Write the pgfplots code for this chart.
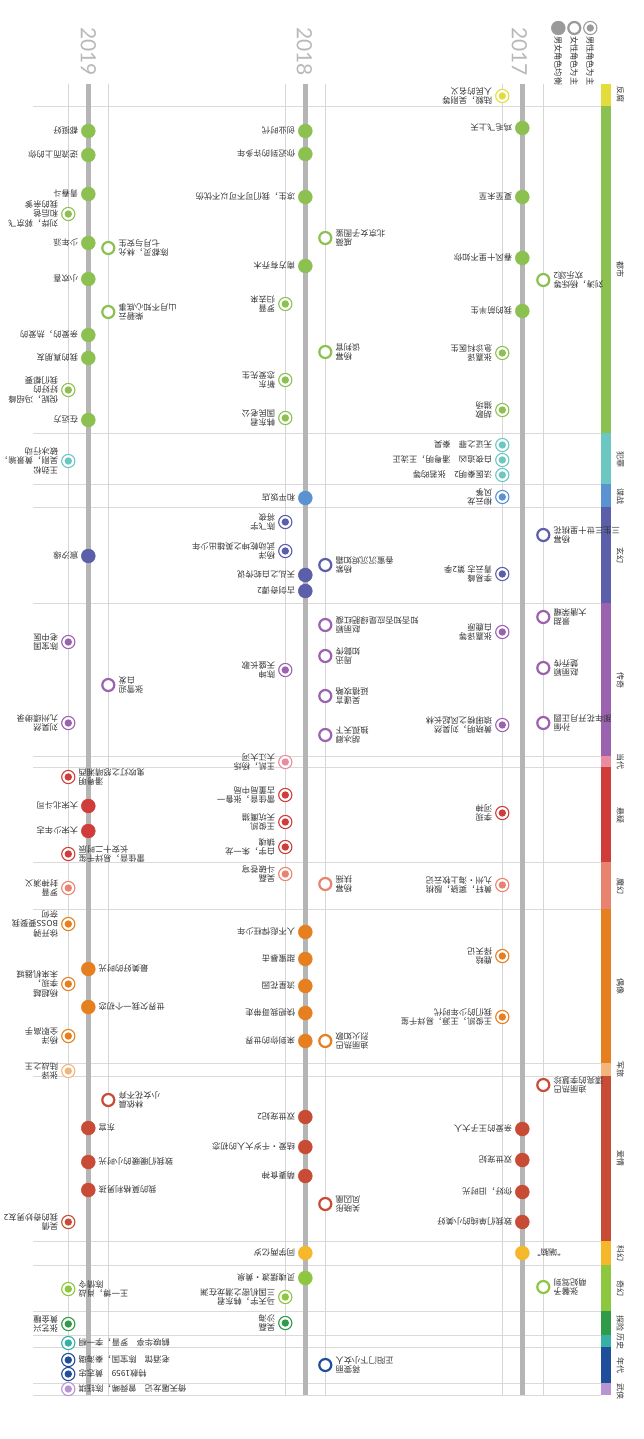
\documentclass[border=0pt]{standalone}
\usepackage{pgfplots}
\pgfplotsset{compat=1.18}
\usepackage{fontspec}
\setmainfont{Liberation Sans}
\newfontfamily\cjk{Noto Sans CJK SC}
\newfontfamily\yearfont{Lato}

\definecolor{labc}{HTML}{333333}
\definecolor{legc}{HTML}{9A9A9A}
\definecolor{yearc}{HTML}{B8B8B8}
\definecolor{mainl}{HTML}{B5B5B5}
\definecolor{thinl}{HTML}{D6D6D6}
\definecolor{sepl}{HTML}{DADADA}
\definecolor{cFF}{HTML}{E3DC3A}
\definecolor{cDS}{HTML}{8CC152}
\definecolor{cFZ}{HTML}{6CC7C2}
\definecolor{cDZ}{HTML}{5B92D2}
\definecolor{cXH}{HTML}{5B5EA8}
\definecolor{cCQ}{HTML}{9B62B0}
\definecolor{cDD}{HTML}{EA8CA0}
\definecolor{cXY}{HTML}{CF3C3A}
\definecolor{cMH}{HTML}{E88370}
\definecolor{cOX}{HTML}{E57F1F}
\definecolor{cJL}{HTML}{F2B57C}
\definecolor{cAQ}{HTML}{C84B35}
\definecolor{cKH}{HTML}{F5B82A}
\definecolor{cQH}{HTML}{8DC63F}
\definecolor{cTX}{HTML}{2F9A48}
\definecolor{cLS}{HTML}{36B0A5}
\definecolor{cND}{HTML}{1F4E9A}
\definecolor{cWX}{HTML}{B894D0}

\pgfdeclareplotmark{maleM}{%
  \begin{pgfscope}%
    \pgfsetfillcolor{white}%
    \pgfpathcircle{\pgfpointorigin}{\pgfplotmarksize}%
    \pgfusepathqfillstroke
  \end{pgfscope}%
  \pgfpathcircle{\pgfpointorigin}{0.56\pgfplotmarksize}%
  \pgfusepathqfill
}

\pgfplotsset{
  mainD/.style={only marks, mark=*, mark size=7, mark options={draw=#1, fill=#1}},
  maleD/.style={only marks, mark=maleM, mark size=6.6, mark options={draw=#1, fill=#1, line width=1.1pt}},
  femD/.style={only marks, mark=*, mark size=6, mark options={draw=#1, fill=white, line width=2.2pt}},
  band/.style={fill=#1, draw=none},
  sep/.style={draw=sepl, line width=0.9pt},
}

\tikzset{
  lab/.style={font=\cjk\fontsize{8.3}{9.6}\selectfont, text=labc, inner sep=0pt, rotate=180},
  L/.style={lab, anchor=west, align=left},
  R/.style={lab, anchor=east, align=right},
  gen/.style={font=\cjk\fontsize{8}{9}\selectfont, text=labc, inner sep=0pt, rotate=-90, anchor=center},
  leg/.style={font=\cjk\fontsize{8.2}{9}\selectfont, text=labc, inner sep=0pt, rotate=-90, anchor=west},
  yr/.style={font=\yearfont\fontsize{21}{22}\selectfont, text=yearc, inner sep=0pt, rotate=-90, anchor=west},
}
\newcommand{\tl}[2]{#2\\#1}

\begin{document}
\begin{tikzpicture}
\begin{axis}[scale only axis, width=640pt, height=1439pt,
  xmin=0, xmax=640, ymin=0, ymax=1439, y dir=reverse,
  hide axis, clip=false]

\addplot[draw=none] coordinates {(0,0) (640,1439)};

% separators
\addplot[sep] coordinates {(30,106) (598,106)};
\addplot[sep] coordinates {(30,433) (598,433)};
\addplot[sep] coordinates {(30,484) (598,484)};
\addplot[sep] coordinates {(30,507) (598,507)};
\addplot[sep] coordinates {(30,603) (598,603)};
\addplot[sep] coordinates {(30,756) (598,756)};
\addplot[sep] coordinates {(30,767) (598,767)};
\addplot[sep] coordinates {(30,862) (598,862)};
\addplot[sep] coordinates {(30,909) (598,909)};
\addplot[sep] coordinates {(30,1063) (598,1063)};
\addplot[sep] coordinates {(30,1076) (598,1076)};
\addplot[sep] coordinates {(30,1241) (598,1241)};
\addplot[sep] coordinates {(30,1265) (598,1265)};
\addplot[sep] coordinates {(30,1311) (598,1311)};
\addplot[sep] coordinates {(30,1335) (598,1335)};
\addplot[sep] coordinates {(30,1347) (598,1347)};
\addplot[sep] coordinates {(30,1383) (598,1383)};
\addplot[sep] coordinates {(30,1395) (598,1395)};

% thin lines
\addplot[draw=thinl, line width=0.9pt] coordinates {(65,84) (65,1395)};
\addplot[draw=thinl, line width=0.9pt] coordinates {(105,84) (105,1395)};
\addplot[draw=thinl, line width=0.9pt] coordinates {(282,84) (282,1395)};
\addplot[draw=thinl, line width=0.9pt] coordinates {(322,84) (322,1395)};
\addplot[draw=thinl, line width=0.9pt] coordinates {(499,84) (499,1395)};
\addplot[draw=thinl, line width=0.9pt] coordinates {(540,84) (540,1395)};
% main lines
\addplot[draw=mainl, line width=5pt] coordinates {(85,84) (85,1395)};
\addplot[draw=mainl, line width=5pt] coordinates {(302,84) (302,1395)};
\addplot[draw=mainl, line width=5pt] coordinates {(519,84) (519,1395)};

% genre bands
\addplot[band=cFF] coordinates {(598,84) (608,84) (608,106) (598,106)};
\addplot[band=cDS] coordinates {(598,106) (608,106) (608,433) (598,433)};
\addplot[band=cFZ] coordinates {(598,433) (608,433) (608,484) (598,484)};
\addplot[band=cDZ] coordinates {(598,484) (608,484) (608,507) (598,507)};
\addplot[band=cXH] coordinates {(598,507) (608,507) (608,603) (598,603)};
\addplot[band=cCQ] coordinates {(598,603) (608,603) (608,756) (598,756)};
\addplot[band=cDD] coordinates {(598,756) (608,756) (608,767) (598,767)};
\addplot[band=cXY] coordinates {(598,767) (608,767) (608,862) (598,862)};
\addplot[band=cMH] coordinates {(598,862) (608,862) (608,909) (598,909)};
\addplot[band=cOX] coordinates {(598,909) (608,909) (608,1063) (598,1063)};
\addplot[band=cJL] coordinates {(598,1063) (608,1063) (608,1076) (598,1076)};
\addplot[band=cAQ] coordinates {(598,1076) (608,1076) (608,1241) (598,1241)};
\addplot[band=cKH] coordinates {(598,1241) (608,1241) (608,1265) (598,1265)};
\addplot[band=cQH] coordinates {(598,1265) (608,1265) (608,1311) (598,1311)};
\addplot[band=cTX] coordinates {(598,1311) (608,1311) (608,1335) (598,1335)};
\addplot[band=cLS] coordinates {(598,1335) (608,1335) (608,1347) (598,1347)};
\addplot[band=cND] coordinates {(598,1347) (608,1347) (608,1383) (598,1383)};
\addplot[band=cWX] coordinates {(598,1383) (608,1383) (608,1395) (598,1395)};

% legend markers
\addplot[maleD=legc] coordinates {(587,28)};
\addplot[femD=legc] coordinates {(571,28)};
\addplot[mainD=legc] coordinates {(555,28)};

% ===== dots =====
% 反腐
\addplot[maleD=cFF] coordinates {(499,96)};
% 都市
\addplot[mainD=cDS] coordinates {(519,128) (519,197) (519,258) (519,311) (302,131) (302,154) (302,197) (302,266) (85,131) (85,155) (85,194) (85,243) (85,279) (85,335) (85,358) (85,420)};
\addplot[maleD=cDS] coordinates {(499,353) (499,410) (282,304) (282,380) (282,418) (65,214) (65,390)};
\addplot[femD=cDS] coordinates {(540,280) (322,238) (322,352) (105,248) (105,312)};
% 犯罪
\addplot[maleD=cFZ] coordinates {(499,445) (499,460) (499,475) (65,461)};
% 谍战
\addplot[maleD=cDZ] coordinates {(499,497)};
\addplot[mainD=cDZ] coordinates {(302,498)};
% 玄幻
\addplot[femD=cXH] coordinates {(540,535) (322,565)};
\addplot[maleD=cXH] coordinates {(499,574) (282,522) (282,551)};
\addplot[mainD=cXH] coordinates {(302,575) (302,591) (85,556)};
% 传奇
\addplot[femD=cCQ] coordinates {(540,617) (540,668) (540,723) (322,625) (322,656) (322,696) (322,735) (105,685)};
\addplot[maleD=cCQ] coordinates {(499,632) (499,725) (282,670) (65,642) (65,723)};
% 当代
\addplot[maleD=cDD] coordinates {(282,762)};
% 悬疑
\addplot[maleD=cXY] coordinates {(499,813) (282,795) (282,822) (282,847) (65,777) (65,854)};
\addplot[mainD=cXY] coordinates {(85,806) (85,831)};
% 魔幻
\addplot[maleD=cMH] coordinates {(499,885) (282,874) (65,888)};
\addplot[femD=cMH] coordinates {(322,884)};
% 偶像
\addplot[maleD=cOX] coordinates {(499,956) (499,1017) (65,924) (65,984) (65,1036)};
\addplot[mainD=cOX] coordinates {(302,932) (302,959) (302,986) (302,1013) (302,1041) (85,969) (85,1007)};
\addplot[femD=cOX] coordinates {(322,1041)};
% 军旅
\addplot[maleD=cJL] coordinates {(65,1071)};
% 爱情
\addplot[femD=cAQ] coordinates {(540,1085) (322,1204) (105,1100)};
\addplot[mainD=cAQ] coordinates {(519,1129) (519,1160) (519,1192) (519,1222) (302,1117) (302,1147) (302,1176) (85,1128) (85,1162) (85,1190)};
\addplot[maleD=cAQ] coordinates {(65,1222)};
% 科幻
\addplot[mainD=cKH] coordinates {(519,1253) (302,1253)};
% 奇幻
\addplot[femD=cQH] coordinates {(540,1287)};
\addplot[mainD=cQH] coordinates {(302,1278)};
\addplot[maleD=cQH] coordinates {(282,1297) (65,1289)};
% 探险
\addplot[maleD=cTX] coordinates {(282,1323) (65,1324)};
% 历史
\addplot[maleD=cLS] coordinates {(65,1343)};
% 年代
\addplot[maleD=cND] coordinates {(65,1360) (65,1374)};
\addplot[femD=cND] coordinates {(322,1365)};
% 武侠
\addplot[maleD=cWX] coordinates {(65,1389)};

% ===== legend & years =====
\node[leg] at (axis cs:587,36) {男性角色为主};
\node[leg] at (axis cs:571,36) {女性角色为主};
\node[leg] at (axis cs:555,36) {男女角色均衡};
\node[yr] at (axis cs:516,27) {2017};
\node[yr] at (axis cs:301,27) {2018};
\node[yr] at (axis cs:85,27) {2019};

% ===== genre labels =====
\node[gen] at (axis cs:617,95) {反腐};
\node[gen] at (axis cs:617,270) {都市};
\node[gen] at (axis cs:617,459) {犯罪};
\node[gen] at (axis cs:617,496) {谍战};
\node[gen] at (axis cs:617,555) {玄幻};
\node[gen] at (axis cs:617,680) {传奇};
\node[gen] at (axis cs:617,761) {当代};
\node[gen] at (axis cs:617,815) {悬疑};
\node[gen] at (axis cs:617,886) {魔幻};
\node[gen] at (axis cs:617,986) {偶像};
\node[gen] at (axis cs:617,1069) {军旅};
\node[gen] at (axis cs:617,1158) {爱情};
\node[gen] at (axis cs:617,1253) {科幻};
\node[gen] at (axis cs:617,1288) {奇幻};
\node[gen] at (axis cs:617,1323) {探险};
\node[gen] at (axis cs:617,1341) {历史};
\node[gen] at (axis cs:617,1365) {年代};
\node[gen] at (axis cs:617,1391) {武侠};

% ===== labels =====
% 反腐
\node[L] at (axis cs:489,96) {\tl{人民的名义}{陆毅，吴刚等}};
% 都市 2017
\node[L] at (axis cs:509,128) {鸡毛飞上天};
\node[L] at (axis cs:509,197) {夏至未至};
\node[L] at (axis cs:509,258) {春风十里不如你};
\node[R] at (axis cs:550,280) {\tl{欢乐颂2}{刘涛，杨烁等}};
\node[L] at (axis cs:509,311) {我的前半生};
\node[L] at (axis cs:489,353) {\tl{急诊科医生}{张嘉译}};
\node[L] at (axis cs:489,410) {\tl{猎场}{胡歌}};
% 都市 2018
\node[L] at (axis cs:292,131) {创业时代};
\node[L] at (axis cs:292,154) {你迟到的许多年};
\node[L] at (axis cs:292,197) {凉生，我们可不可以不忧伤};
\node[R] at (axis cs:332,238) {\tl{北京女子图鉴}{戚薇}};
\node[L] at (axis cs:292,266) {南方有乔木};
\node[L] at (axis cs:272,304) {\tl{归去来}{罗晋}};
\node[R] at (axis cs:332,352) {\tl{谈判官}{杨幂}};
\node[L] at (axis cs:272,380) {\tl{恋爱先生}{靳东}};
\node[L] at (axis cs:272,418) {\tl{国民老公}{韩东君}};
% 都市 2019
\node[L] at (axis cs:75,131) {都挺好};
\node[L] at (axis cs:75,155) {逆流而上的你};
\node[L] at (axis cs:75,194) {青春斗};
\node[L] at (axis cs:55,214) {刘烨，郭京飞\\和后爸\\我的亲爹};
\node[L] at (axis cs:75,243) {少年派};
\node[R] at (axis cs:115,248) {\tl{七月与安生}{陈都灵，林允}};
\node[L] at (axis cs:75,279) {小欢喜};
\node[R] at (axis cs:115,312) {\tl{山月不知心底事}{柴碧云}};
\node[L] at (axis cs:75,335) {亲爱的，热爱的};
\node[L] at (axis cs:75,358) {我的真朋友};
\node[L] at (axis cs:55,390) {倪妮，冯绍峰\\好好的\\我们都要};
\node[L] at (axis cs:75,420) {在远方};
% 犯罪
\node[L] at (axis cs:489,445) {无证之罪\quad 秦昊};
\node[L] at (axis cs:489,460) {白夜追凶\quad 潘粤明，王泷正};
\node[L] at (axis cs:489,475) {法医秦明2\quad 张若昀等};
\node[L] at (axis cs:55,461) {王劲松\\吴刚，黄景瑜，\\破冰行动};
% 谍战
\node[L] at (axis cs:489,497) {\tl{风筝}{柳云龙}};
\node[L] at (axis cs:292,498) {和平饭店};
% 玄幻
\node[R] at (axis cs:550,535) {\tl{三生三世十里桃花}{杨幂}};
\node[L] at (axis cs:489,574) {\tl{青云志 第2季}{李易峰}};
\node[L] at (axis cs:272,522) {\tl{将夜}{陈飞宇}};
\node[L] at (axis cs:272,551) {\tl{武动乾坤之英雄出少年}{杨洋}};
\node[R] at (axis cs:332,565) {\tl{香蜜沉沉烬如霜}{杨紫}};
\node[L] at (axis cs:292,575) {天乩之白蛇传说};
\node[L] at (axis cs:292,591) {古剑奇谭2};
\node[L] at (axis cs:75,556) {宸汐缘};
% 传奇
\node[R] at (axis cs:550,617) {\tl{大唐荣耀}{景甜}};
\node[L] at (axis cs:489,632) {\tl{白鹿原}{张嘉译等}};
\node[R] at (axis cs:550,668) {\tl{楚乔传}{赵丽颖}};
\node[R] at (axis cs:550,723) {\tl{那年花开月正圆}{孙俪}};
\node[L] at (axis cs:489,725) {\tl{琅琊榜之风起长林}{黄晓明，刘昊然}};
\node[R] at (axis cs:332,625) {\tl{知否知否应是绿肥红瘦}{赵丽颖}};
\node[R] at (axis cs:332,656) {\tl{如懿传}{周迅}};
\node[R] at (axis cs:332,696) {\tl{延禧攻略}{吴谨言}};
\node[R] at (axis cs:332,735) {\tl{独孤天下}{胡冰卿}};
\node[L] at (axis cs:272,670) {\tl{天盛长歌}{陈坤}};
\node[L] at (axis cs:55,642) {\tl{老中医}{陈宝国}};
\node[R] at (axis cs:115,685) {\tl{白发}{张雪迎}};
\node[L] at (axis cs:55,723) {\tl{九州缥缈录}{刘昊然}};
% 当代
\node[L] at (axis cs:272,762) {\tl{大江大河}{王凯，杨烁}};
% 悬疑
\node[L] at (axis cs:489,813) {\tl{河神}{李现}};
\node[L] at (axis cs:272,795) {\tl{古董局中局}{雷佳音，张鲁一}};
\node[L] at (axis cs:272,822) {\tl{天坑鹰猎}{王俊凯}};
\node[L] at (axis cs:272,847) {\tl{镇魂}{白宇，朱一龙}};
\node[R] at (axis cs:75,777) {\tl{鬼吹灯之怒晴湘西}{潘粤明}};
\node[L] at (axis cs:75,806) {大宋北斗司};
\node[L] at (axis cs:75,831) {大宋少年志};
\node[R] at (axis cs:75,854) {\tl{长安十二时辰}{雷佳音，易烊千玺}};
% 魔幻
\node[L] at (axis cs:489,885) {\tl{九州·海上牧云记}{黄轩，窦骁，殷桃}};
\node[L] at (axis cs:272,874) {\tl{斗破苍穹}{吴磊}};
\node[R] at (axis cs:332,884) {\tl{扶摇}{杨幂}};
\node[L] at (axis cs:55,888) {\tl{封神演义}{罗晋}};
% 偶像
\node[L] at (axis cs:489,956) {\tl{择天记}{鹿晗}};
\node[L] at (axis cs:489,1017) {\tl{我们的少年时代}{王俊凯，王源，易烊千玺}};
\node[L] at (axis cs:292,932) {人不彪悍枉少年};
\node[L] at (axis cs:292,959) {甜蜜暴击};
\node[L] at (axis cs:292,986) {流星花园};
\node[L] at (axis cs:292,1013) {快把我哥带走};
\node[L] at (axis cs:292,1041) {来到你的世界};
\node[R] at (axis cs:332,1041) {\tl{烈火如歌}{迪丽热巴}};
\node[L] at (axis cs:55,924) {徐开骋\\BOSS要娶我\\奈何};
\node[R] at (axis cs:95,969) {最美好的时光};
\node[L] at (axis cs:55,984) {杨超越\\李现，\\未来机器城};
\node[R] at (axis cs:95,1007) {世界欠我一个初恋};
\node[L] at (axis cs:55,1036) {\tl{全职高手}{杨洋}};
% 军旅
\node[L] at (axis cs:55,1071) {\tl{陆战之王}{张译}};
% 爱情
\node[R] at (axis cs:550,1085) {\tl{漂亮的李慧珍}{迪丽热巴}};
\node[L] at (axis cs:509,1129) {亲爱的王子大人};
\node[L] at (axis cs:509,1160) {双世宠妃};
\node[L] at (axis cs:509,1192) {你好，旧时光};
\node[L] at (axis cs:509,1222) {致我们单纯的小美好};
\node[L] at (axis cs:292,1117) {双世宠妃2};
\node[L] at (axis cs:292,1147) {结爱·千岁大人的初恋};
\node[L] at (axis cs:292,1176) {萌妻食神};
\node[R] at (axis cs:332,1204) {\tl{凤囚凰}{关晓彤}};
\node[R] at (axis cs:115,1100) {\tl{小女花不弃}{林依晨}};
\node[R] at (axis cs:95,1128) {东宫};
\node[R] at (axis cs:95,1162) {致我们暖暖的小时光};
\node[R] at (axis cs:95,1190) {我的莫格利男孩};
\node[L] at (axis cs:55,1222) {\tl{我的奇妙男友2}{吴倩}};
% 科幻
\node[R] at (axis cs:529,1253) {“端脑”};
\node[L] at (axis cs:292,1253) {同学两亿岁};
% 奇幻
\node[R] at (axis cs:550,1287) {\tl{萌妃驾到}{张馨予}};
\node[L] at (axis cs:292,1278) {灵魂摆渡·黄泉};
\node[L] at (axis cs:272,1297) {\tl{三国机密之潜龙在渊}{马天宇，韩东君}};
\node[R] at (axis cs:75,1289) {\tl{陈情令}{王一博，肖战}};
% 探险
\node[L] at (axis cs:272,1323) {\tl{沙海}{吴磊}};
\node[L] at (axis cs:55,1324) {\tl{黄金瞳}{张艺兴}};
% 历史
\node[R] at (axis cs:75,1343) {鹤唳华亭\quad 罗晋，李一桐};
% 年代
\node[R] at (axis cs:75,1360) {老酒馆\quad 陈宝国，秦海璐};
\node[R] at (axis cs:75,1374) {特赦1959\quad 黄志忠};
\node[R] at (axis cs:332,1365) {\tl{正阳门下小女人}{蒋雯丽}};
% 武侠
\node[R] at (axis cs:75,1389) {倚天屠龙记\quad 曾舜晞，陈钰琪};

\end{axis}
\end{tikzpicture}
\end{document}
